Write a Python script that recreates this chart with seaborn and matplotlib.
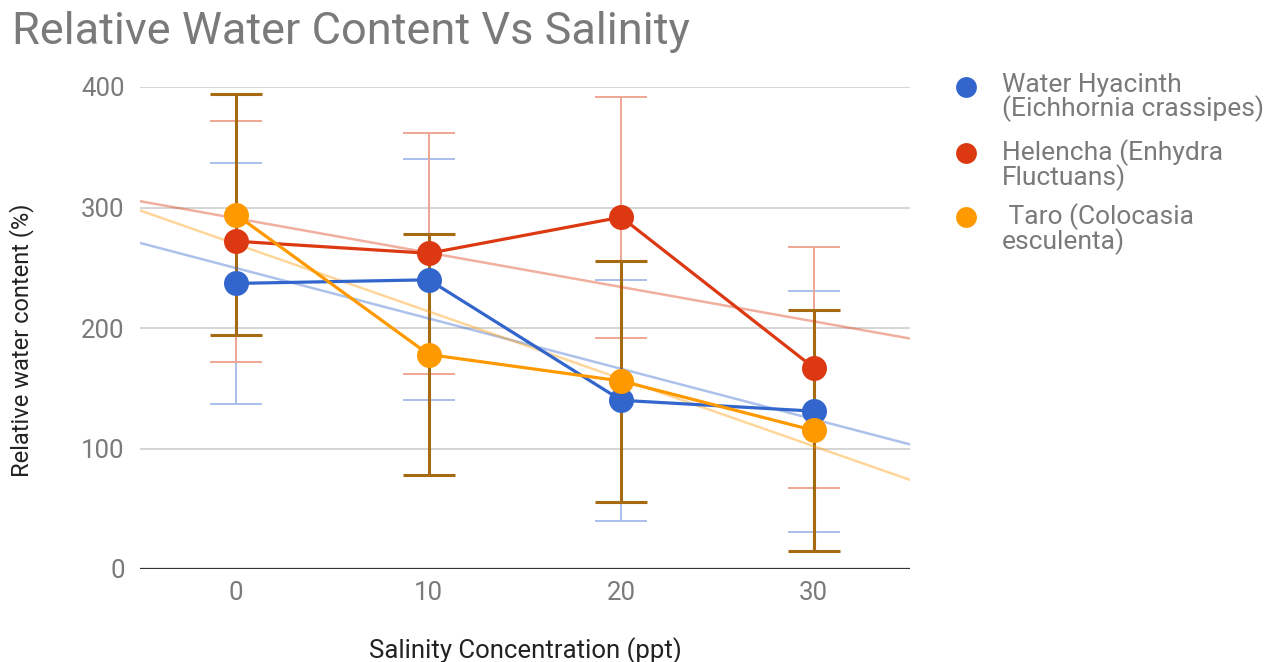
import numpy as np
import pandas as pd
import matplotlib
matplotlib.use("Agg")
import matplotlib.pyplot as plt
from matplotlib.lines import Line2D
import seaborn as sns

# Salinity levels (ppt) and mean relative water content (%) per species
salinity = [0, 10, 20, 30]
water_hyacinth = [237, 240, 140, 131]
helencha = [272, 262, 292, 167]
taro = [294, 178, 156, 115]

# Error bar half-widths (%)
err_water_hyacinth = [100, 100, 100, 100]
err_helencha = [100, 100, 100, 100]
err_taro = [100, 100, 100, 100]

series_names = [
    "Water Hyacinth\n(Eichhornia crassipes)",
    "Helencha (Enhydra\nFluctuans)",
    " Taro (Colocasia\nesculenta)",
]
series_colors = ["#3366cc", "#dc3912", "#ff9900"]
error_colors = ["#a9c0ec", "#efa594", "#a66a12"]
error_widths = [1.4, 1.4, 2.2]

x_ticks = [0, 10, 20, 30]
y_ticks = [0, 100, 200, 300, 400]

sns.set_theme(style="white")
plt.rcParams["font.family"] = ["Roboto", "DejaVu Sans"]

values = [water_hyacinth, helencha, taro]
errors = [err_water_hyacinth, err_helencha, err_taro]

df = pd.DataFrame({
    "salinity": np.tile(salinity, 3),
    "rwc": np.concatenate(values),
    "species": np.repeat(series_names, len(salinity)),
})

fig = plt.figure(figsize=(12.74, 6.62), dpi=100)
W, H = 1274, 662
ax = fig.add_axes([140 / W, 1 - 569 / H, 770 / W, 482 / H])
ax.set_xlim(-5, 35)
ax.set_ylim(0, 400)

# grid
for yt in y_ticks[1:]:
    ax.axhline(yt, color="#d2d2d2", lw=1.3, zorder=0)
ax.axhline(0, color="#333333", lw=1.6, zorder=1)

# error bars
for vals, errs, ec, ew in zip(values, errors, error_colors, error_widths):
    ax.errorbar(salinity, vals, yerr=errs, fmt="none", ecolor=ec,
                elinewidth=ew, capsize=19, capthick=ew, zorder=2)

# linear trend lines across the full axis range
for vals, col in zip(values, series_colors):
    sns.regplot(x=np.array(salinity), y=np.array(vals), ax=ax, scatter=False,
                ci=None, truncate=False, color=col,
                line_kws={"lw": 1.8, "alpha": 0.4, "zorder": 3})
ax.set_xlim(-5, 35)
ax.set_ylim(0, 400)

# data lines with markers
sns.lineplot(data=df, x="salinity", y="rwc", hue="species",
             hue_order=series_names, palette=series_colors, marker="o",
             markersize=18, markeredgewidth=0, linewidth=2.3,
             legend=False, ax=ax, zorder=4)

for s in ax.spines.values():
    s.set_visible(False)
ax.set_xticks(x_ticks)
ax.set_yticks(y_ticks)
ax.tick_params(axis="both", length=0, labelsize=18.5, labelcolor="#7a7a7a")
ax.tick_params(axis="x", pad=9)
ax.tick_params(axis="y", pad=11)
ax.set_xlabel("Salinity Concentration (ppt)", fontsize=18.5, color="#222222",
              va="center")
ax.xaxis.set_label_coords(0.5, (569 - 651) / 482)
ax.set_ylabel("Relative water content (%)", fontsize=17, color="#222222",
              va="center")
ax.yaxis.set_label_coords((22 - 140) / 770, (569 - 340) / 482)
ax.grid(False)

fig.text(12 / W, 1 - 32 / H, "Relative Water Content Vs Salinity",
         fontsize=32.5, color="#7a7a7a", ha="left", va="center")

# legend
leg_y = [87, 153, 217]
for name, col, yy in zip(series_names, series_colors, leg_y):
    fig.add_artist(Line2D([966 / W], [1 - yy / H], marker="o", markersize=15,
                          markeredgewidth=0, color=col, linestyle="none",
                          transform=fig.transFigure))
    fig.text(1002 / W, 1 - (yy - 14) / H, name, fontsize=19, color="#7a7a7a",
             ha="left", va="top", linespacing=0.92)

fig.savefig("out.png", dpi=100)
